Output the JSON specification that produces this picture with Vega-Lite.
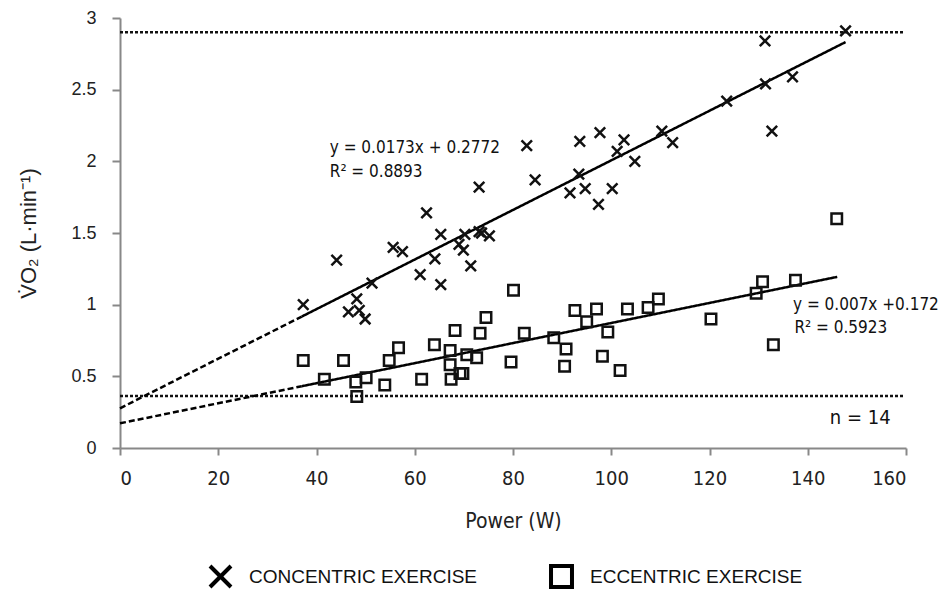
{
  "$schema": "https://vega.github.io/schema/vega-lite/v6.json",
  "width": 786,
  "height": 430,
  "autosize": {"type": "none"},
  "padding": {"left": 120, "top": 18, "right": 39, "bottom": 148},
  "background": "white",
  "config": {"view": {"stroke": null}, "font": "Liberation Sans"},
  "datasets": {
    "pts": [
      {"series": "CONCENTRIC EXERCISE", "power": 37.3, "vo2": 1.00},
      {"series": "CONCENTRIC EXERCISE", "power": 44.1, "vo2": 1.31},
      {"series": "CONCENTRIC EXERCISE", "power": 46.5, "vo2": 0.95},
      {"series": "CONCENTRIC EXERCISE", "power": 48.2, "vo2": 1.04},
      {"series": "CONCENTRIC EXERCISE", "power": 48.7, "vo2": 0.96},
      {"series": "CONCENTRIC EXERCISE", "power": 49.9, "vo2": 0.90},
      {"series": "CONCENTRIC EXERCISE", "power": 51.3, "vo2": 1.15},
      {"series": "CONCENTRIC EXERCISE", "power": 55.6, "vo2": 1.40},
      {"series": "CONCENTRIC EXERCISE", "power": 57.5, "vo2": 1.37},
      {"series": "CONCENTRIC EXERCISE", "power": 61.1, "vo2": 1.21},
      {"series": "CONCENTRIC EXERCISE", "power": 62.4, "vo2": 1.64},
      {"series": "CONCENTRIC EXERCISE", "power": 64.1, "vo2": 1.32},
      {"series": "CONCENTRIC EXERCISE", "power": 65.3, "vo2": 1.49},
      {"series": "CONCENTRIC EXERCISE", "power": 65.3, "vo2": 1.14},
      {"series": "CONCENTRIC EXERCISE", "power": 69.0, "vo2": 1.42},
      {"series": "CONCENTRIC EXERCISE", "power": 69.9, "vo2": 1.38},
      {"series": "CONCENTRIC EXERCISE", "power": 70.2, "vo2": 1.49},
      {"series": "CONCENTRIC EXERCISE", "power": 71.4, "vo2": 1.27},
      {"series": "CONCENTRIC EXERCISE", "power": 73.1, "vo2": 1.82},
      {"series": "CONCENTRIC EXERCISE", "power": 73.1, "vo2": 1.51},
      {"series": "CONCENTRIC EXERCISE", "power": 73.6, "vo2": 1.50},
      {"series": "CONCENTRIC EXERCISE", "power": 75.2, "vo2": 1.48},
      {"series": "CONCENTRIC EXERCISE", "power": 82.8, "vo2": 2.11},
      {"series": "CONCENTRIC EXERCISE", "power": 84.5, "vo2": 1.87},
      {"series": "CONCENTRIC EXERCISE", "power": 91.6, "vo2": 1.78},
      {"series": "CONCENTRIC EXERCISE", "power": 93.4, "vo2": 1.91},
      {"series": "CONCENTRIC EXERCISE", "power": 93.6, "vo2": 2.14},
      {"series": "CONCENTRIC EXERCISE", "power": 94.7, "vo2": 1.81},
      {"series": "CONCENTRIC EXERCISE", "power": 97.4, "vo2": 1.70},
      {"series": "CONCENTRIC EXERCISE", "power": 97.7, "vo2": 2.20},
      {"series": "CONCENTRIC EXERCISE", "power": 100.2, "vo2": 1.81},
      {"series": "CONCENTRIC EXERCISE", "power": 101.2, "vo2": 2.07},
      {"series": "CONCENTRIC EXERCISE", "power": 102.6, "vo2": 2.15},
      {"series": "CONCENTRIC EXERCISE", "power": 104.8, "vo2": 2.00},
      {"series": "CONCENTRIC EXERCISE", "power": 110.3, "vo2": 2.21},
      {"series": "CONCENTRIC EXERCISE", "power": 112.5, "vo2": 2.13},
      {"series": "CONCENTRIC EXERCISE", "power": 123.5, "vo2": 2.42},
      {"series": "CONCENTRIC EXERCISE", "power": 131.3, "vo2": 2.84},
      {"series": "CONCENTRIC EXERCISE", "power": 131.4, "vo2": 2.54},
      {"series": "CONCENTRIC EXERCISE", "power": 132.7, "vo2": 2.21},
      {"series": "CONCENTRIC EXERCISE", "power": 136.9, "vo2": 2.59},
      {"series": "CONCENTRIC EXERCISE", "power": 147.7, "vo2": 2.91},
      {"series": "ECCENTRIC EXERCISE", "power": 37.3, "vo2": 0.61},
      {"series": "ECCENTRIC EXERCISE", "power": 41.6, "vo2": 0.48},
      {"series": "ECCENTRIC EXERCISE", "power": 45.5, "vo2": 0.61},
      {"series": "ECCENTRIC EXERCISE", "power": 48.0, "vo2": 0.46},
      {"series": "ECCENTRIC EXERCISE", "power": 48.2, "vo2": 0.36},
      {"series": "ECCENTRIC EXERCISE", "power": 50.1, "vo2": 0.49},
      {"series": "ECCENTRIC EXERCISE", "power": 53.9, "vo2": 0.44},
      {"series": "ECCENTRIC EXERCISE", "power": 54.8, "vo2": 0.61},
      {"series": "ECCENTRIC EXERCISE", "power": 56.7, "vo2": 0.70},
      {"series": "ECCENTRIC EXERCISE", "power": 61.4, "vo2": 0.48},
      {"series": "ECCENTRIC EXERCISE", "power": 64.0, "vo2": 0.72},
      {"series": "ECCENTRIC EXERCISE", "power": 67.2, "vo2": 0.68},
      {"series": "ECCENTRIC EXERCISE", "power": 67.2, "vo2": 0.58},
      {"series": "ECCENTRIC EXERCISE", "power": 67.4, "vo2": 0.48},
      {"series": "ECCENTRIC EXERCISE", "power": 68.2, "vo2": 0.82},
      {"series": "ECCENTRIC EXERCISE", "power": 69.2, "vo2": 0.52},
      {"series": "ECCENTRIC EXERCISE", "power": 69.8, "vo2": 0.52},
      {"series": "ECCENTRIC EXERCISE", "power": 70.6, "vo2": 0.65},
      {"series": "ECCENTRIC EXERCISE", "power": 72.6, "vo2": 0.63},
      {"series": "ECCENTRIC EXERCISE", "power": 73.3, "vo2": 0.80},
      {"series": "ECCENTRIC EXERCISE", "power": 74.5, "vo2": 0.91},
      {"series": "ECCENTRIC EXERCISE", "power": 79.6, "vo2": 0.60},
      {"series": "ECCENTRIC EXERCISE", "power": 80.1, "vo2": 1.10},
      {"series": "ECCENTRIC EXERCISE", "power": 82.3, "vo2": 0.80},
      {"series": "ECCENTRIC EXERCISE", "power": 88.3, "vo2": 0.77},
      {"series": "ECCENTRIC EXERCISE", "power": 90.5, "vo2": 0.57},
      {"series": "ECCENTRIC EXERCISE", "power": 90.8, "vo2": 0.69},
      {"series": "ECCENTRIC EXERCISE", "power": 92.6, "vo2": 0.96},
      {"series": "ECCENTRIC EXERCISE", "power": 95.0, "vo2": 0.88},
      {"series": "ECCENTRIC EXERCISE", "power": 97.0, "vo2": 0.97},
      {"series": "ECCENTRIC EXERCISE", "power": 98.2, "vo2": 0.64},
      {"series": "ECCENTRIC EXERCISE", "power": 99.3, "vo2": 0.81},
      {"series": "ECCENTRIC EXERCISE", "power": 101.8, "vo2": 0.54},
      {"series": "ECCENTRIC EXERCISE", "power": 103.3, "vo2": 0.97},
      {"series": "ECCENTRIC EXERCISE", "power": 107.5, "vo2": 0.98},
      {"series": "ECCENTRIC EXERCISE", "power": 109.6, "vo2": 1.04},
      {"series": "ECCENTRIC EXERCISE", "power": 120.3, "vo2": 0.90},
      {"series": "ECCENTRIC EXERCISE", "power": 129.5, "vo2": 1.08},
      {"series": "ECCENTRIC EXERCISE", "power": 130.8, "vo2": 1.16},
      {"series": "ECCENTRIC EXERCISE", "power": 133.0, "vo2": 0.72},
      {"series": "ECCENTRIC EXERCISE", "power": 137.5, "vo2": 1.17},
      {"series": "ECCENTRIC EXERCISE", "power": 145.9, "vo2": 1.60}
    ],
    "fits": [
      {"seg": "con_dash", "style": "dash", "power": 0, "vo2": 0.277},
      {"seg": "con_dash", "style": "dash", "power": 37, "vo2": 0.917},
      {"seg": "con_solid", "style": "solid", "power": 37, "vo2": 0.917},
      {"seg": "con_solid", "style": "solid", "power": 147.7, "vo2": 2.832},
      {"seg": "ecc_dash", "style": "dash", "power": 0, "vo2": 0.172},
      {"seg": "ecc_dash", "style": "dash", "power": 37, "vo2": 0.431},
      {"seg": "ecc_solid", "style": "solid", "power": 37, "vo2": 0.431},
      {"seg": "ecc_solid", "style": "solid", "power": 146, "vo2": 1.194}
    ],
    "refs": [
      {"y": 2.9, "x0": 0, "x1": 159.5},
      {"y": 0.363, "x0": 0, "x1": 159.5}
    ],
    "notes": [
      {"power": 42.7, "vo2": 2.093, "label": "y = 0.0173x + 0.2772", "size": 17},
      {"power": 42.7, "vo2": 1.926, "label": "R² = 0.8893", "size": 17},
      {"power": 137.0, "vo2": 0.998, "label": "y = 0.007x +0.172", "size": 17},
      {"power": 137.3, "vo2": 0.837, "label": "R² = 0.5923", "size": 17},
      {"power": 144.5, "vo2": 0.209, "label": "n = 14", "size": 20}
    ]
  },
  "layer": [
    {
      "data": {"name": "refs"},
      "mark": {"type": "rule", "color": "#111", "strokeWidth": 2.5, "strokeDash": [3, 2]},
      "encoding": {
        "x": {"field": "x0", "type": "quantitative", "scale": {"domain": [0, 160], "nice": false}},
        "x2": {"field": "x1"},
        "y": {"field": "y", "type": "quantitative", "scale": {"domain": [0, 3], "nice": false}}
      }
    },
    {
      "data": {"name": "fits"},
      "mark": {"type": "line", "color": "#000", "strokeWidth": 2.5},
      "encoding": {
        "x": {"field": "power", "type": "quantitative"},
        "y": {"field": "vo2", "type": "quantitative"},
        "detail": {"field": "seg"},
        "strokeDash": {"field": "style", "type": "nominal", "scale": {"domain": ["solid", "dash"], "range": [[1, 0], [6, 3]]}, "legend": null}
      }
    },
    {
      "data": {"name": "pts"},
      "mark": {"type": "point", "filled": false, "stroke": "#111", "strokeWidth": 2.5, "size": 110, "opacity": 1},
      "encoding": {
        "x": {
          "field": "power", "type": "quantitative",
          "axis": {
            "title": "Power (W)", "values": [0, 20, 40, 60, 80, 100, 120, 140, 160],
            "grid": false, "domainColor": "#888", "domainWidth": 2, "tickColor": "#888", "tickWidth": 2, "tickSize": 7,
            "labelFont": "DejaVu Sans Condensed, Liberation Sans", "labelFontSize": 20, "labelColor": "#222", "labelPadding": 13,
            "titleFont": "DejaVu Sans Condensed, Liberation Sans", "titleFontSize": 21, "titleFontWeight": "normal", "titleColor": "#222", "titlePadding": 22
          }
        },
        "y": {
          "field": "vo2", "type": "quantitative",
          "axis": {
            "title": "V̇O₂ (L·min⁻¹)", "values": [0, 0.5, 1, 1.5, 2, 2.5, 3], "format": "~g",
            "grid": false, "domainColor": "#888", "domainWidth": 2, "tickColor": "#888", "tickWidth": 2, "tickSize": 8,
            "labelFontSize": 18, "labelColor": "#222", "labelPadding": 16,
            "titleFontSize": 22, "titleFontWeight": "normal", "titleColor": "#222", "titlePadding": 30
          }
        },
        "shape": {
          "field": "series", "type": "nominal",
          "scale": {"domain": ["CONCENTRIC EXERCISE", "ECCENTRIC EXERCISE"], "range": ["M-1,-1L1,1M1,-1L-1,1", "square"]},
          "legend": {
            "title": null, "orient": "none", "direction": "horizontal", "legendX": 88, "legendY": 546,
            "labelFont": "Liberation Sans", "labelFontSize": 19, "labelColor": "#111", "labelLimit": 0,
            "symbolSize": 440, "symbolStrokeWidth": 4, "symbolStrokeColor": "#000", "symbolFillColor": "transparent",
            "columnPadding": 65, "labelOffset": 16
          }
        }
      }
    },
    {
      "data": {"name": "notes"},
      "mark": {"type": "text", "align": "left", "baseline": "middle", "font": "DejaVu Sans Condensed, Liberation Sans", "color": "#111"},
      "encoding": {
        "x": {"field": "power", "type": "quantitative"},
        "y": {"field": "vo2", "type": "quantitative"},
        "text": {"field": "label"},
        "size": {"field": "size", "type": "quantitative", "scale": null, "legend": null}
      }
    }
  ]
}
